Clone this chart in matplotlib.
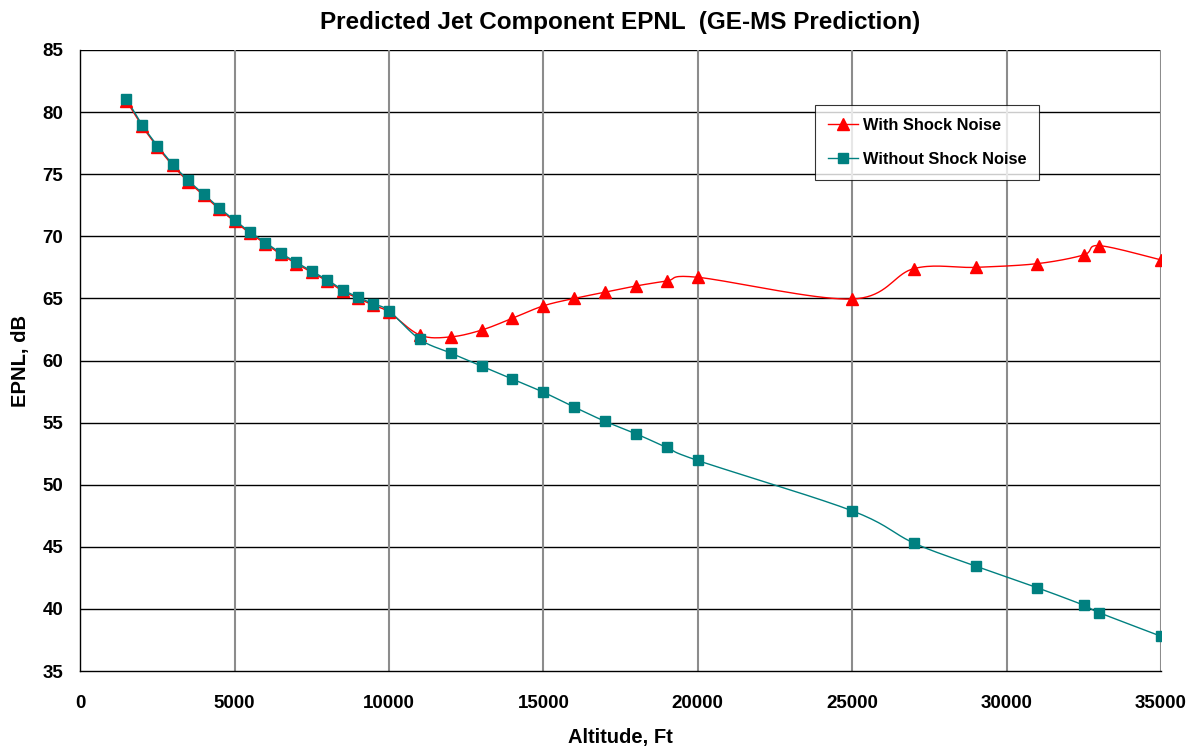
import numpy as np
import matplotlib.pyplot as plt

plt.rcParams['font.family'] = ['Liberation Sans', 'DejaVu Sans']
plt.rcParams['font.weight'] = 'bold'

# Altitude (ft) and predicted EPNL (dB)
altitude = [1500, 2000, 2500, 3000, 3500, 4000, 4500, 5000, 5500, 6000,
            6500, 7000, 7500, 8000, 8500, 9000, 9500, 10000,
            11000, 12000, 13000, 14000, 15000, 16000, 17000, 18000, 19000, 20000,
            25000, 27000, 29000, 31000, 32500, 33000, 35000]
with_shock = [80.9, 78.9, 77.2, 75.7, 74.4, 73.3, 72.2, 71.2, 70.25, 69.4,
              68.55, 67.8, 67.1, 66.4, 65.6, 65.0, 64.45, 63.9,
              62.05, 61.9, 62.45, 63.4, 64.4, 65.0, 65.5, 66.0, 66.4, 66.7,
              64.95, 67.4, 67.5, 67.8, 68.5, 69.25, 68.1]
without_shock = [81.05, 79.0, 77.3, 75.8, 74.5, 73.4, 72.3, 71.3, 70.35, 69.5,
                 68.65, 67.9, 67.2, 66.5, 65.7, 65.1, 64.55, 64.0,
                 61.7, 60.6, 59.55, 58.5, 57.45, 56.25, 55.1, 54.1, 53.0, 51.95,
                 47.9, 45.3, 43.45, 41.7, 40.3, 39.7, 37.8]


def smooth(x, y, n=20, t=0.5):
    # Catmull-Rom style curve through the points (spreadsheet "smoothed line")
    x = np.asarray(x, float)
    y = np.asarray(y, float)
    px = np.concatenate([[x[0]], x, [x[-1]]])
    py = np.concatenate([[y[0]], y, [y[-1]]])
    xs, ys = [], []
    s = np.linspace(0, 1, n)
    for i in range(1, len(px) - 2):
        p0, p1, p2, p3 = (np.array([px[j], py[j]]) for j in (i - 1, i, i + 1, i + 2))
        c1 = p1 + (p2 - p0) * t / 3
        c2 = p2 - (p3 - p1) * t / 3
        b = ((1 - s) ** 3)[:, None] * p1 + (3 * (1 - s) ** 2 * s)[:, None] * c1 \
            + (3 * (1 - s) * s ** 2)[:, None] * c2 + (s ** 3)[:, None] * p2
        xs.extend(b[:, 0])
        ys.extend(b[:, 1])
    return xs, ys


fig = plt.figure(figsize=(11.96, 7.46), dpi=100)
ax = fig.add_axes([0.067, 0.1005, 0.9037, 0.8325])

red = '#FF0000'
teal = '#008080'

sx, sy = smooth(altitude, with_shock)
ax.plot(sx, sy, color=red, lw=1.0, zorder=3)
ax.plot(altitude, with_shock, ls='none', marker='^', ms=8.5, color=red, zorder=4)
sx, sy = smooth(altitude, without_shock)
ax.plot(sx, sy, color=teal, lw=1.0, zorder=3)
ax.plot(altitude, without_shock, ls='none', marker='s', ms=6.5, color=teal, zorder=5)

# legend entries
ax.plot([], [], color=red, lw=1.0, marker='^', ms=8.5, label='With Shock Noise')
ax.plot([], [], color=teal, lw=1.0, marker='s', ms=6.5, label='Without Shock Noise')

ax.set_xlim(0, 35000)
ax.set_ylim(35, 85)
ax.set_xticks(np.arange(0, 35001, 5000))
ax.set_yticks(np.arange(35, 86, 5))
ax.tick_params(axis='both', labelsize=13.5, length=0)
ax.tick_params(axis='x', pad=17)
ax.tick_params(axis='y', pad=12)
for lab in ax.get_xticklabels() + ax.get_yticklabels():
    lab.set_fontweight('bold')

for yv in range(40, 86, 5):
    ax.axhline(yv, color='black', lw=1.0, zorder=1)
for xv in range(5000, 35001, 5000):
    ax.axvline(xv, color='#8c8c8c', lw=1.5, zorder=1)

for side in ['top', 'right']:
    ax.spines[side].set_visible(False)
ax.spines['left'].set_linewidth(1.0)
ax.spines['bottom'].set_linewidth(1.0)

ax.set_title('Predicted Jet Component EPNL  (GE-MS Prediction)',
             fontsize=17.5, fontweight='bold', pad=15)
ax.set_xlabel('Altitude, Ft', fontsize=14.5, fontweight='bold', labelpad=12)
ax.set_ylabel('EPNL, dB', fontsize=14.5, fontweight='bold', labelpad=9)

leg = ax.legend(loc='upper left', bbox_to_anchor=(0.68, 0.9114),
                frameon=True, fancybox=False, labelspacing=1.15,
                borderpad=0.8, handlelength=1.8, handletextpad=0.3,
                borderaxespad=0, prop={'weight': 'bold', 'size': 11.8})
leg.get_frame().set_edgecolor('black')
leg.get_frame().set_linewidth(0.8)

fig.savefig('out.png', dpi=100)
